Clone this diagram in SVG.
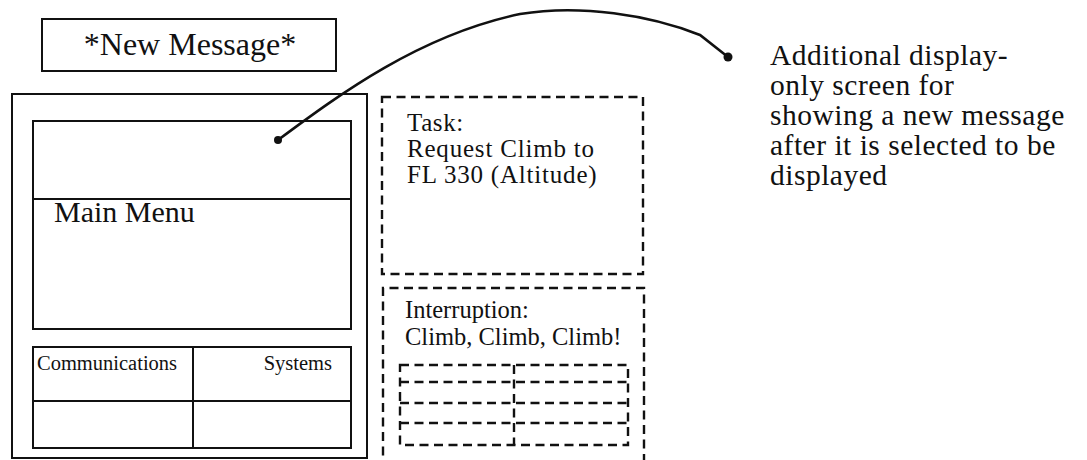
<svg xmlns="http://www.w3.org/2000/svg" width="1087" height="460" viewBox="0 0 1087 460">
<style>
.s{fill:none;stroke:#111;stroke-width:2}
.d{fill:none;stroke:#111;stroke-width:2.4;stroke-dasharray:9 5.5}
.t{font-family:"Liberation Serif","Times New Roman",serif;fill:#111}
</style>
<rect width="1087" height="460" fill="#fff"/>
<g id="new-message">
<rect class="s" x="42" y="19" width="294" height="52"/>
<text class="t" x="190" y="55" font-size="32" text-anchor="middle">*New Message*</text>
</g>
<g id="device">
<rect class="s" x="12" y="94" width="355" height="364"/>
</g>
<g id="screen">
<rect class="s" x="33" y="121" width="318" height="208"/>
<line class="s" x1="33" y1="199" x2="351" y2="199"/>
<text class="t" x="54" y="222" font-size="30">Main Menu</text>
</g>
<g id="buttons">
<rect class="s" x="33" y="347" width="318" height="101"/>
<line class="s" x1="193" y1="347" x2="193" y2="448"/>
<line class="s" x1="33" y1="401" x2="351" y2="401"/>
<text class="t" x="37" y="370" font-size="20.5">Communications</text>
<text class="t" x="332" y="370" font-size="20.5" text-anchor="end">Systems</text>
</g>
<g id="task">
<rect class="d" x="382" y="97" width="261" height="177"/>
<text class="t" x="407" y="131" font-size="25" letter-spacing="0.6">Task:</text>
<text class="t" x="407" y="157" font-size="25" letter-spacing="0.8">Request Climb to</text>
<text class="t" x="407" y="183" font-size="25" letter-spacing="0.8">FL 330 (Altitude)</text>
</g>
<g id="interruption">
<path class="d" d="M383,470 V288 H644 V470"/>
<text class="t" x="405" y="318" font-size="24.5">Interruption:</text>
<text class="t" x="405" y="345" font-size="24.5">Climb, Climb, Climb!</text>
<rect class="d" x="400" y="365" width="228" height="80"/>
<line class="d" x1="514" y1="365" x2="514" y2="445"/>
<line class="d" x1="400" y1="382" x2="628" y2="382"/>
<line class="d" x1="400" y1="403" x2="628" y2="403"/>
<line class="d" x1="400" y1="423" x2="628" y2="423"/>
</g>
<g id="note">
<text class="t" font-size="29.5" letter-spacing="0.5">
<tspan x="770" y="65">Additional display-</tspan>
<tspan x="770" y="95">only screen for</tspan>
<tspan x="770" y="125">showing a new message</tspan>
<tspan x="770" y="155">after it is selected to be</tspan>
<tspan x="770" y="185">displayed</tspan>
</text>
</g>
<g id="connectors">
<path fill="none" stroke="#111" stroke-width="2.6" d="M278,140 C340,94 420,35 520,14 C580,4 650,15 700,35 L728,57"/>
<circle cx="278" cy="140" r="4" fill="#111"/>
<circle cx="728" cy="57" r="4.5" fill="#111"/>
</g>
</svg>
